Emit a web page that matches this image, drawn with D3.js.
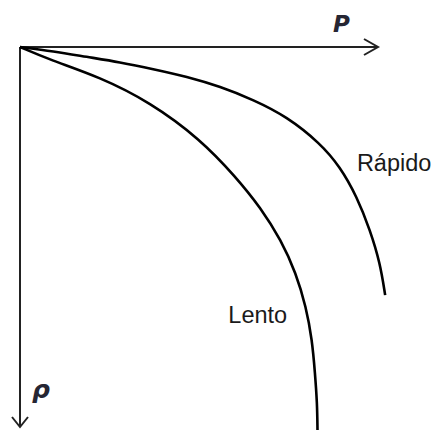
<!DOCTYPE html>
<html>
<head>
<meta charset="utf-8">
<script src="https://cdn.jsdelivr.net/npm/d3@7"></script>
<style>
  html, body { margin: 0; padding: 0; background: #fff; }
  svg { display: block; }
  .lbl { font-family: "Liberation Sans", Arial, sans-serif; font-size: 23.5px; fill: #1a1a1a; }
  .axis-lbl { font-family: "DejaVu Sans", "Noto Sans", sans-serif; font-style: italic; fill: #262633; }
</style>
</head>
<body>
<svg width="435" height="430"></svg>
<script>
// P (horizontal) and rho (vertical, pointing down), arbitrary units 0..100
const axisEnd = {p: 100, rho: 100};

const rapidoP   = [0, 9.3, 18.6, 27.9, 37.2, 46.6, 55.9, 65.2, 74.5, 83.8, 89.4, 94.1, 97.8, 100.6, 102.0];
const rapidoRho = [0, 1.1, 2.6, 4.0, 5.8, 7.8, 10.4, 13.9, 18.3, 25.3, 31.5, 39.4, 48.2, 56.9, 65.3];

const lentoP   = [0, 8.4, 22.3, 36.3, 50.3, 60.3, 67.3, 72.9, 77.1, 79.9, 81.6, 82.4, 83.0, 83.1];
const lentoRho = [0, 3.4, 7.9, 14.5, 24.2, 34.2, 42.4, 50.8, 59.5, 68.4, 77.1, 85.8, 93.7, 100.8];

const curves = [
    {name: 'Rápido', p: rapidoP, rho: rapidoRho, labelAt: [94.1, 32.5]},
    {name: 'Lento', p: lentoP, rho: lentoRho, labelAt: [58.2, 72.5]}
];

const svg = d3.select('svg');

const xScale = d3.scaleLinear()
    .domain([0, axisEnd.p])
    .range([20, 378]);

const yScale = d3.scaleLinear()
    .domain([0, axisEnd.rho])
    .range([47, 427]);

// axes
const axisG = svg.append('g')
    .attr('stroke', '#222')
    .attr('stroke-width', 2)
    .attr('fill', 'none');

axisG.append('line')
    .attr('x1', xScale(0)).attr('y1', yScale(0))
    .attr('x2', xScale(axisEnd.p)).attr('y2', yScale(0));
axisG.append('path')
    .attr('d', `M${xScale(axisEnd.p) - 14},${yScale(0) - 8} L${xScale(axisEnd.p)},${yScale(0)} L${xScale(axisEnd.p) - 14},${yScale(0) + 8}`);

axisG.append('line')
    .attr('x1', xScale(0)).attr('y1', yScale(0))
    .attr('x2', xScale(0)).attr('y2', yScale(axisEnd.rho));
axisG.append('path')
    .attr('d', `M${xScale(0) - 8},${yScale(axisEnd.rho) - 10} L${xScale(0)},${yScale(axisEnd.rho)} L${xScale(0) + 8},${yScale(axisEnd.rho) - 10}`);

svg.append('text')
    .attr('class', 'axis-lbl')
    .attr('font-weight', 'bold')
    .attr('x', xScale(87.4))
    .attr('y', 32)
    .attr('font-size', 23)
    .text('P');

svg.append('text')
    .attr('class', 'axis-lbl')
    .attr('font-weight', 'bold')
    .attr('x', 32)
    .attr('y', 398)
    .attr('font-size', 25)
    .text('ρ');

// curves
const line = d3.line()
    .x(d => xScale(d[0]))
    .y(d => yScale(d[1]))
    .curve(d3.curveBasis);

curves.forEach(c => {
    const pts = c.p.map((v, i) => [v, c.rho[i]]);
    svg.append('path')
        .attr('d', line(pts))
        .attr('fill', 'none')
        .attr('stroke', '#000')
        .attr('stroke-width', 2.6);
    svg.append('text')
        .attr('class', 'lbl')
        .attr('x', xScale(c.labelAt[0]))
        .attr('y', yScale(c.labelAt[1]))
        .text(c.name);
});
</script>
</body>
</html>
